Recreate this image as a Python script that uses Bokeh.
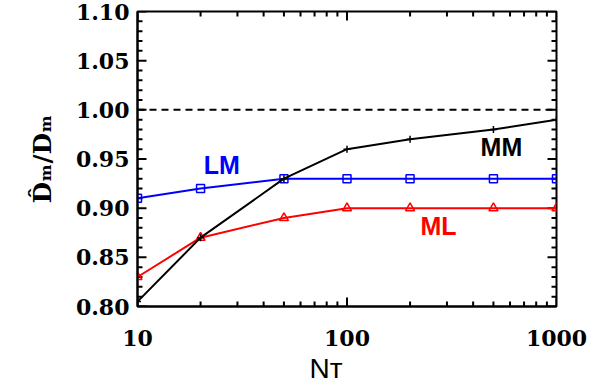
import numpy as np
from bokeh.plotting import figure
from bokeh.models import FixedTicker, Label, Span, Range1d, CustomJSTickFormatter, Title
from bokeh.embed import file_html
from bokeh.resources import INLINE

# ---------------- data ----------------
n_t = [10, 20, 50, 100, 200, 500, 1000]
mm_vals = [0.805, 0.870, 0.930, 0.960, 0.970, 0.980, 0.990]
lm_vals = [0.910, 0.920, 0.930, 0.930, 0.930, 0.930, 0.930]
ml_vals = [0.830, 0.870, 0.890, 0.900, 0.900, 0.900, 0.900]
y_ticks = [0.80, 0.85, 0.90, 0.95, 1.00, 1.05, 1.10]
x_ticks = [10, 100, 1000]

X0, X1, Y0, Y1 = 10, 1000, 0.80, 1.10
FW, FH = 419, 295

p = figure(width=596, height=385, x_axis_type="log",
           x_range=Range1d(X0, X1), y_range=Range1d(Y0, Y1),
           output_backend="svg", toolbar_location=None,
           min_border_left=137, min_border_right=40,
           min_border_top=11, min_border_bottom=79)
p.frame_width = FW
p.frame_height = FH
p.outline_line_color = "black"
p.outline_line_width = 2
p.xgrid.visible = False
p.ygrid.visible = False
p.background_fill_color = "white"
p.border_fill_color = "white"

minor_x = [float(v * 10 ** e) for e in (1, 2) for v in range(2, 10)]
minor_y = [float(round(v, 2)) for v in np.arange(0.80, 1.1001, 0.01)]

for ax in (p.xaxis[0], p.yaxis[0]):
    ax.axis_line_width = 2
    ax.axis_line_color = "black"
    ax.major_tick_in = 0
    ax.major_tick_out = 0
    ax.minor_tick_in = 0
    ax.minor_tick_out = 0
    ax.major_label_text_font = "DejaVu Serif"
    ax.major_label_text_font_style = "bold"
    ax.major_label_text_font_size = "22px"
    ax.major_label_text_color = "black"
p.xaxis[0].ticker = FixedTicker(ticks=x_ticks)
p.yaxis[0].ticker = FixedTicker(ticks=y_ticks)
p.xaxis[0].major_label_standoff = 23
p.xaxis[0].formatter = CustomJSTickFormatter(code="return String(Math.round(tick));")
p.yaxis[0].major_label_standoff = 8
p.yaxis[0].formatter = CustomJSTickFormatter(code="return tick.toFixed(2);")

p.yaxis[0].axis_label = "D\u0302\u2098/D\u2098"
p.yaxis[0].axis_label_text_font = "DejaVu Serif"
p.yaxis[0].axis_label_text_font_style = "bold"
p.yaxis[0].axis_label_text_font_size = "25px"
p.yaxis[0].axis_label_text_color = "black"
p.yaxis[0].axis_label_standoff = 16

# inward ticks on all four sides
ypx = (Y1 - Y0) / FH
xfac = float(10 ** (np.log10(X1 / X0) / FW))
yt_all = sorted(set(float(t) for t in y_ticks) | set(minor_y))
yl = [9 if any(abs(yv - t) < 1e-9 for t in y_ticks) else 5 for yv in yt_all]
xt_all = [float(t) for t in x_ticks] + minor_x
xl = [9 if xv in x_ticks else 5 for xv in xt_all]

sx0 = [float(X0)] * len(yt_all) + [float(X1)] * len(yt_all) + xt_all + xt_all
sx1 = ([X0 * xfac ** l for l in yl] + [X1 / xfac ** l for l in yl] + xt_all + xt_all)
sy0 = yt_all + yt_all + [float(Y0)] * len(xt_all) + [float(Y1)] * len(xt_all)
sy1 = (yt_all + yt_all + [Y0 + l * ypx for l in xl] + [Y1 - l * ypx for l in xl])
p.segment(x0=sx0, y0=sy0, x1=sx1, y1=sy1, line_color="black", line_width=2)

p.add_layout(Span(location=1.0, dimension="width", line_color="black",
                  line_width=2, line_dash="7 5"))

# series
p.line(n_t, lm_vals, line_color="#0000ff", line_width=2)
p.scatter(n_t, lm_vals, marker="square", size=8, line_color="#0000ff",
          fill_color=None, line_width=1.5)
p.line(n_t, ml_vals, line_color="#ff0000", line_width=2)
p.scatter(n_t, ml_vals, marker="triangle", size=9, line_color="#ff0000",
          fill_color=None, line_width=1.5)
p.line(n_t, mm_vals, line_color="black", line_width=2)
p.scatter(n_t, mm_vals, marker="cross", size=7, line_color="black", line_width=1.5)

# series labels
for txt, x, y, col in [("LM", 20.7, 0.944, "#0000ff"),
                       ("MM", 434, 0.962, "black"),
                       ("ML", 224, 0.882, "#ff0000")]:
    p.add_layout(Label(x=x, y=y, text=txt, text_color=col,
                       text_font="Liberation Sans", text_font_style="bold",
                       text_font_size="25px", text_baseline="alphabetic"))

# x-axis title N_T (small capital T sitting on the baseline)
t_n = Title(text="N\u1D1B", align="left", offset=172, standoff=4,
            text_font="Liberation Sans", text_font_size="28px",
            text_font_style="normal", text_color="black")
p.add_layout(t_n, "below")

open("out.html", "w").write(file_html(p, INLINE))
